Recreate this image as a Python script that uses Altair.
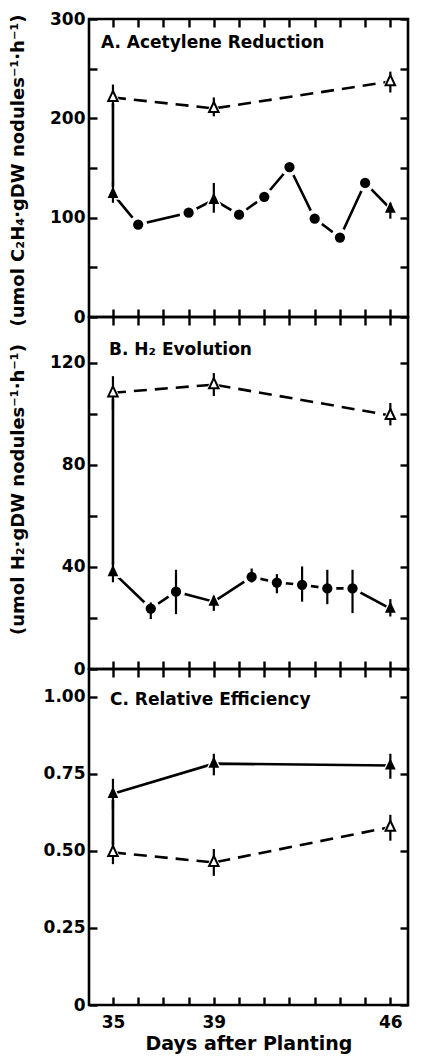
import altair as alt
import pandas as pd

FONT = "DejaVu Sans"

# ---------------- data ----------------
day_ticks = list(range(35, 47))
x_label_days = [35, 39, 46]
x_domain = [34.05, 46.7]

panel_labels = ["A. Acetylene Reduction", "B. H\u2082 Evolution", "C. Relative Efficiency"]
y_titles = ["(umol C\u2082H\u2084\u00b7gDW nodules\u207b\u00b9\u00b7h\u207b\u00b9)",
            "(umol H\u2082\u00b7gDW nodules\u207b\u00b9\u00b7h\u207b\u00b9)"]

# Panel A: acetylene reduction
a_fix_days = [35, 36, 38, 39, 40, 41, 42, 43, 44, 45, 46]
a_fix_vals = [124, 93, 105, 118, 103, 121, 151, 99, 80, 135, 109]
a_fix_mark = ["tri", "circ", "circ", "tri", "circ", "circ", "circ", "circ", "circ", "circ", "tri"]
a_fix_err_days = [35, 39, 46]
a_fix_err_lo = [115, 105, 99]
a_fix_err_hi = [136, 135, 115]
a_open_days = [35, 39, 46]
a_open_vals = [221, 210, 237]
a_open_err_lo = [211, 202, 226]
a_open_err_hi = [234, 221, 247]

# Panel B: H2 evolution
b_fix_days = [35, 36.5, 37.5, 39, 40.5, 41.5, 42.5, 43.5, 44.5, 46]
b_fix_vals = [38, 23.7, 30.3, 26.4, 36.1, 33.9, 33, 31.6, 31.6, 23.7]
b_fix_mark = ["tri", "circ", "circ", "tri", "circ", "circ", "circ", "circ", "circ", "tri"]
b_fix_err_days = [35, 36.5, 37.5, 39, 40.5, 41.5, 42.5, 43.5, 44.5, 46]
b_fix_err_lo = [34, 19.6, 21.5, 22.8, 33.9, 29.7, 26.4, 25.4, 21.9, 20.6]
b_fix_err_hi = [42, 26.1, 38.9, 28.7, 39.4, 37.2, 40.2, 38.9, 38.9, 27.4]
b_open_days = [35, 39, 46]
b_open_vals = [108.3, 111.5, 99.4]
b_open_err_lo = [101.7, 107, 95.5]
b_open_err_hi = [114.8, 116, 104.3]

# Panel C: relative efficiency
c_fix_days = [35, 39, 46]
c_fix_vals = [0.685, 0.783, 0.777]
c_fix_mark = ["tri", "tri", "tri"]
c_fix_err_days = [35, 39, 46]
c_fix_err_lo = [0.636, 0.745, 0.734]
c_fix_err_hi = [0.734, 0.815, 0.815]
c_open_days = [35, 39, 46]
c_open_vals = [0.495, 0.4625, 0.577]
c_open_err_lo = [0.457, 0.419, 0.533]
c_open_err_hi = [0.533, 0.506, 0.617]

TRI = "M0,-1.15L0.85,0.65L-0.85,0.65Z"


def panel(fdays, fvals, fmark, edays, elo, ehi, odays, ovals, olo, ohi,
          label, label_xy, ydom, yvals, lexpr, ytitle, title_y, h, bottom):
    fd = pd.DataFrame({"day": fdays, "val": fvals, "mark": fmark})
    fe = pd.DataFrame({"day": edays, "lo": elo, "hi": ehi})
    od = pd.DataFrame({"day": odays, "val": ovals})
    oe = pd.DataFrame({"day": odays, "lo": olo, "hi": ohi})
    conn = pd.DataFrame({"day": [fdays[0]], "a": [fvals[0]], "b": [ovals[0]]})
    lab = pd.DataFrame({"t": [label]})

    xs = alt.Scale(domain=x_domain, nice=False, zero=False)
    ys = alt.Scale(domain=ydom, nice=False, zero=False)

    bkw = dict(orient="bottom", values=day_ticks, tickSize=8, offset=-8, domain=False,
               grid=False, title=None)
    if bottom:
        bkw.update(labelExpr="indexof([35,39,46], datum.value) >= 0 ? datum.label : ''",
                   labelPadding=9, title="Days after Planting", titlePadding=4,
                   titleFontSize=19, labelFontSize=17, format="d")
    else:
        bkw.update(labels=False)
    lkw = dict(orient="left", values=yvals, labelExpr=lexpr, tickSize=8, offset=-8,
               domain=False, grid=False, labelPadding=4, title=ytitle)
    if ytitle:
        lkw.update(titlePadding=22, titleY=title_y)
    else:
        lkw.update(title=None)

    ax_b = alt.Axis(**bkw)
    ax_l = alt.Axis(**lkw)
    ax_t = alt.Axis(orient="top", values=day_ticks, tickSize=8, offset=-8, domain=False,
                    grid=False, labels=False, title=None)
    ax_r = alt.Axis(orient="right", values=yvals, tickSize=8, offset=-8, domain=False,
                    grid=False, labels=False, title=None)

    shape_scale = alt.Scale(domain=["tri", "circ"], range=[TRI, "circle"])

    solid = alt.Chart(fd).mark_line(color="black", strokeWidth=2.6).encode(
        x=alt.X("day:Q", scale=xs, axis=ax_b),
        y=alt.Y("val:Q", scale=ys, axis=ax_l))
    dashed = alt.Chart(od).mark_line(color="black", strokeWidth=2.6, strokeDash=[13, 8]).encode(
        x=alt.X("day:Q", scale=xs, axis=ax_t),
        y=alt.Y("val:Q", scale=ys, axis=ax_r))
    connector = alt.Chart(conn).mark_rule(color="black", strokeWidth=2.6).encode(
        x=alt.X("day:Q", scale=xs, axis=None),
        y=alt.Y("a:Q", scale=ys, axis=None), y2="b:Q")
    halo_f = alt.Chart(fd).mark_point(filled=True, color="white", opacity=1, size=330).encode(
        x=alt.X("day:Q", scale=xs, axis=None),
        y=alt.Y("val:Q", scale=ys, axis=None),
        shape=alt.Shape("mark:N", scale=shape_scale, legend=None))
    halo_o = alt.Chart(od).mark_point(filled=True, color="white", opacity=1, size=330,
                                      shape=TRI).encode(
        x=alt.X("day:Q", scale=xs, axis=None),
        y=alt.Y("val:Q", scale=ys, axis=None))
    err_f = alt.Chart(fe).mark_rule(color="black", strokeWidth=2.2).encode(
        x=alt.X("day:Q", scale=xs, axis=None),
        y=alt.Y("lo:Q", scale=ys, axis=None), y2="hi:Q")
    err_o = alt.Chart(oe).mark_rule(color="black", strokeWidth=2.2).encode(
        x=alt.X("day:Q", scale=xs, axis=None),
        y=alt.Y("lo:Q", scale=ys, axis=None), y2="hi:Q")
    pts_f = alt.Chart(fd).mark_point(filled=True, color="black", opacity=1).encode(
        x=alt.X("day:Q", scale=xs, axis=None),
        y=alt.Y("val:Q", scale=ys, axis=None),
        shape=alt.Shape("mark:N", scale=shape_scale, legend=None),
        size=alt.Size("mark:N", scale=alt.Scale(domain=["tri", "circ"], range=[160, 105]),
                      legend=None))
    pts_o = alt.Chart(od).mark_point(shape=TRI, fill="white", stroke="black", strokeWidth=2,
                                     opacity=1, fillOpacity=1, size=125).encode(
        x=alt.X("day:Q", scale=xs, axis=None),
        y=alt.Y("val:Q", scale=ys, axis=None))
    text = alt.Chart(lab).mark_text(align="left", baseline="middle", font=FONT,
                                    fontWeight="bold", fontSize=17, color="black").encode(
        x=alt.value(label_xy[0]), y=alt.value(label_xy[1]), text="t:N")

    return alt.layer(solid, dashed, connector, halo_f, halo_o, err_f, err_o, pts_f, pts_o,
                     text).resolve_scale(x="shared", y="shared").resolve_axis(
        x="independent", y="independent").properties(width=319, height=h)


pA = panel(a_fix_days, a_fix_vals, a_fix_mark, a_fix_err_days, a_fix_err_lo, a_fix_err_hi,
           a_open_days, a_open_vals, a_open_err_lo, a_open_err_hi,
           panel_labels[0], (12, 24), [0, 300], list(range(0, 301, 50)),
           "datum.value % 100 == 0 ? datum.label : ''", y_titles[0], 151, 298, False)
pB = panel(b_fix_days, b_fix_vals, b_fix_mark, b_fix_err_days, b_fix_err_lo, b_fix_err_hi,
           b_open_days, b_open_vals, b_open_err_lo, b_open_err_hi,
           panel_labels[1], (20, 33), [0, 138], list(range(0, 121, 20)),
           "datum.value % 40 == 0 ? datum.label : ''", y_titles[1], 172, 352, False)
pC = panel(c_fix_days, c_fix_vals, c_fix_mark, c_fix_err_days, c_fix_err_lo, c_fix_err_hi,
           c_open_days, c_open_vals, c_open_err_lo, c_open_err_hi,
           panel_labels[2], (21, 31), [0, 1.09], [0, 0.25, 0.5, 0.75, 1.0],
           "datum.value == 0 ? '0' : format(datum.value, '.2f')", None, 0, 336, True)

chart = alt.vconcat(pA, pB, pC, spacing=0, bounds="flush").properties(
    padding={"left": 0, "top": 0, "right": 0, "bottom": 0}
).configure_view(stroke="black", strokeWidth=2.6).configure_axis(
    labelFont=FONT, labelFontSize=17, labelFontWeight="bold", labelColor="black",
    titleFont=FONT, titleFontSize=18, titleFontWeight="bold", titleColor="black",
    tickColor="black", tickWidth=2.4
)

chart.save("out.html", embed_options={"renderer": "svg", "actions": False})
